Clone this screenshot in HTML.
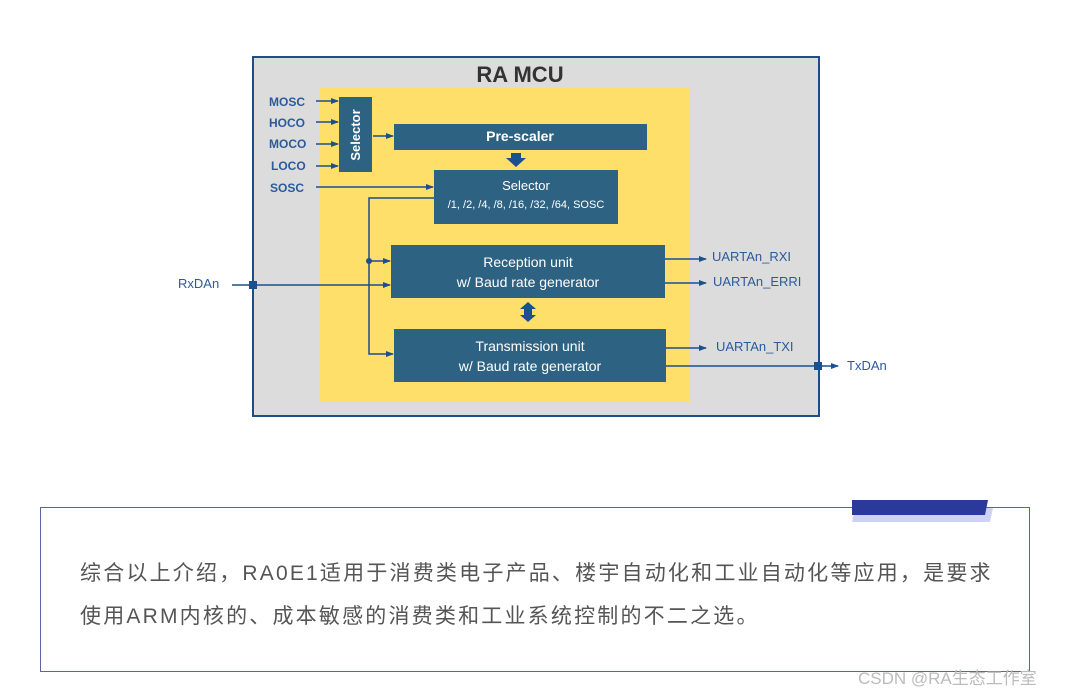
<!DOCTYPE html>
<html><head><meta charset="utf-8"><style>
body{margin:0;background:#fff;width:1067px;height:694px;overflow:hidden;position:relative;font-family:"Liberation Sans",sans-serif}
svg{position:absolute;left:0;top:0}
.card{position:absolute;left:40px;top:507px;width:990px;height:165px;border:1px solid #5a64a8;box-sizing:border-box}
.txt{position:absolute;left:80px;top:552px;font-family:"Liberation Sans","Noto Sans CJK SC",sans-serif;font-size:21px;color:#555;line-height:43px;letter-spacing:2.2px;white-space:nowrap}
.wm{position:absolute;left:858px;top:664px;font-family:"Liberation Sans","Noto Sans CJK SC",sans-serif;font-size:17px;color:#bbb}
</style></head><body>
<svg width="1067" height="694" font-family="Liberation Sans, sans-serif">
<defs><marker id="a" markerWidth="8" markerHeight="8" refX="7" refY="4" orient="auto" markerUnits="userSpaceOnUse"><path d="M0,1 L8,4 L0,7z" fill="#1c4f8f"/></marker></defs>
<rect x="253" y="57" width="566" height="359" fill="#dcdcdc" stroke="#1e4d8c" stroke-width="2"/>
<rect x="320" y="88" width="370" height="314" fill="#fedf6a"/>
<text x="520" y="82" text-anchor="middle" font-size="22" font-weight="bold" fill="#333">RA MCU</text>
<g fill="#2e6283">
<rect x="339" y="97" width="33" height="75"/>
<rect x="394" y="124" width="253" height="26"/>
<rect x="434" y="170" width="184" height="54"/>
<rect x="391" y="245" width="274" height="53"/>
<rect x="394" y="329" width="272" height="53"/>
</g>
<g fill="#fff" text-anchor="middle" font-weight="bold">
<text x="0" y="0" font-size="13" transform="translate(360,135) rotate(-90)">Selector</text>
<text x="520" y="141" font-size="14">Pre-scaler</text>
<text x="526" y="190" font-size="13" font-weight="normal">Selector</text>
<text x="526" y="208" font-size="11" font-weight="normal">/1, /2, /4, /8, /16, /32, /64, SOSC</text>
<text x="528" y="267" font-size="14" font-weight="normal">Reception unit</text>
<text x="528" y="287" font-size="14" font-weight="normal">w/ Baud rate generator</text>
<text x="530" y="351" font-size="14" font-weight="normal">Transmission unit</text>
<text x="530" y="371" font-size="14" font-weight="normal">w/ Baud rate generator</text>
</g>
<g fill="#2b5a9c" font-size="12" font-weight="bold">
<text x="269" y="106">MOSC</text><text x="269" y="127">HOCO</text><text x="269" y="148">MOCO</text><text x="271" y="170">LOCO</text><text x="270" y="192">SOSC</text>
</g>
<g fill="#2b5a9c" font-size="13">
<text x="178" y="288">RxDAn</text>
<text x="712" y="261">UARTAn_RXI</text><text x="713" y="286">UARTAn_ERRI</text><text x="716" y="351">UARTAn_TXI</text><text x="847" y="370">TxDAn</text>
</g>
<g stroke="#1c4f8f" stroke-width="1.5" fill="none" marker-end="url(#a)">
<line x1="316" y1="101" x2="338" y2="101"/><line x1="316" y1="122" x2="338" y2="122"/><line x1="316" y1="144" x2="338" y2="144"/><line x1="316" y1="166" x2="338" y2="166"/>
<line x1="373" y1="136" x2="393" y2="136"/>
<line x1="316" y1="187" x2="433" y2="187"/>
<line x1="232" y1="285" x2="390" y2="285"/>
<line x1="369" y1="261" x2="390" y2="261"/>
<path d="M434,198 H369 V354 H393"/>
<line x1="665" y1="259" x2="706" y2="259"/><line x1="665" y1="283" x2="706" y2="283"/>
<line x1="666" y1="348" x2="706" y2="348"/>
<line x1="666" y1="366" x2="838" y2="366"/>
</g>
<circle cx="369" cy="261" r="3" fill="#1c4f8f"/>
<rect x="249" y="281" width="8" height="8" fill="#1c4f8f"/>
<rect x="814" y="362" width="8" height="8" fill="#1c4f8f"/>
<path d="M511,153 h10 v5 h5 l-10,9 l-10,-9 h5z" fill="#1c4f8f"/>
<path d="M528,302 l8,7 h-4 v6 h4 l-8,7 l-8,-7 h4 v-6 h-4z" fill="#1c4f8f"/>
</svg>
<div class="card"></div>
<svg width="1067" height="694"><polygon points="855,508 993,508 990,522 852,522" fill="#cfd3f3"/><polygon points="852,500 988,500 985,515 852,515" fill="#2b3a9a"/></svg>
<div class="txt">综合以上介绍，RA0E1适用于消费类电子产品、楼宇自动化和工业自动化等应用，是要求<br>使用ARM内核的、成本敏感的消费类和工业系统控制的不二之选。</div>
<div class="wm">CSDN @RA生态工作室</div>
</body></html>
